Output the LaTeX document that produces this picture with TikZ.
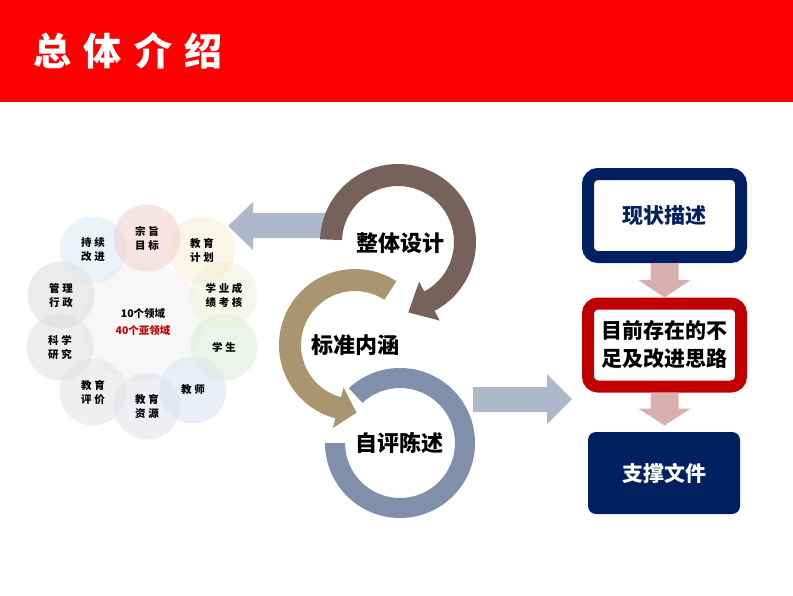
\documentclass[tikz,border=0pt]{standalone}
\usepackage{fontspec}
\setmainfont{Noto Sans CJK SC}
\usetikzlibrary{calc}
\definecolor{hdrred}{HTML}{FF0000}
\definecolor{navy}{HTML}{002060}
\definecolor{darkred}{HTML}{C00000}
\definecolor{ringbrown}{HTML}{76625A}
\definecolor{ringtan}{HTML}{A99671}
\definecolor{ringblue}{HTML}{8090AA}
\definecolor{grayarr}{HTML}{ADB9CA}
\definecolor{pinkarr}{HTML}{D8AEAE}
\definecolor{cA}{HTML}{F2CFCF}
\definecolor{cB}{HTML}{F6EDD5}
\definecolor{cC}{HTML}{EEF2D8}
\definecolor{cD}{HTML}{DDEADC}
\definecolor{cE}{HTML}{DAE3F2}
\definecolor{cF}{HTML}{E3E1E8}
\definecolor{cG}{HTML}{E3E3E3}
\definecolor{cH}{HTML}{E0E0E0}
\definecolor{cI}{HTML}{DCDCDC}
\definecolor{cJ}{HTML}{DCE8F4}
\begin{document}
\begin{tikzpicture}[x=1pt,y=1pt,
  titletext/.style={text=white,font=\bfseries\fontsize{38}{40}\selectfont,inner sep=0pt},
  dom/.style={circle,minimum size=67pt,inner sep=0pt,align=center,
    font=\bfseries\fontsize{10.5}{14}\selectfont\addfontfeature{LetterSpace=25},fill opacity=0.55,text opacity=1},
  ringtext/.style={font=\bfseries\fontsize{22}{24}\selectfont,inner sep=0pt},
  framebox/.style={rectangle,rounded corners=10pt,line width=12pt,fill=white,
    minimum width=153pt,minimum height=83pt,align=center,
    font=\bfseries\fontsize{21}{28}\selectfont,inner sep=0pt},
  solidbox/.style={rectangle,rounded corners=8pt,fill=navy,text=white,
    minimum width=152pt,minimum height=82pt,
    font=\bfseries\fontsize{21}{28}\selectfont,inner sep=0pt}]
\useasboundingbox (0,0) rectangle (793,-595);
\fill[white] (0,0) rectangle (793,-595);
% header
\fill[hdrred] (0,0) rectangle (793,-102);
\node[titletext] (title) at (128,-51) {总\hspace{12.5pt}体\hspace{12.5pt}介\hspace{12.5pt}绍};

% cluster of domains
\node[circle,minimum size=120pt,fill=black!3,inner sep=0pt] (hub) at (143,-322) {};
\node[dom,fill=cF] (d6) at (147,-406) {教育\\资源};
\node[dom,fill=cE] (d5) at (193,-390) {教师};
\node[dom,fill=cG] (d7) at (93,-392) {教育\\评价};
\node[dom,fill=cH] (d8) at (60,-347) {科学\\研究};
\node[dom,fill=cD] (d4) at (224,-347) {学生};
\node[dom,fill=cI] (d9) at (61,-295) {管理\\行政};
\node[dom,fill=cC] (d3) at (224,-295) {学业成\\绩考核};
\node[dom,fill=cJ] (d10) at (93,-250) {持续\\改进};
\node[dom,fill=cB] (d2) at (202,-250) {教育\\计划};
\node[dom,fill=cA] (d1) at (147,-238) {宗旨\\目标};
\node[align=center,font=\bfseries\fontsize{10.5}{17}\selectfont,inner sep=0pt] (hubtext) at (143,-322)
  {10个领域\\\textcolor{darkred}{40个亚领域}};

% left gray arrow
\fill[grayarr] (330,-213) -- (253,-213) -- (253,-202) -- (228,-226) -- (253,-250) -- (253,-238) -- (330,-238) -- cycle;
% right gray arrow
\fill[grayarr] (473,-387) -- (547,-387) -- (547,-374) -- (572,-399) -- (547,-424) -- (547,-412) -- (473,-412) -- cycle;

% rings
\coordinate (C1) at (398,-242);
\coordinate (C2) at (355,-345);
\coordinate (C3) at (400,-443);
% blue ring
\fill[ringblue] ($(C3)+(133:75)$) arc[start angle=133,end angle=-180,radius=75]
  -- ($(C3)+(180:55)$) arc[start angle=-180,end angle=133,radius=55] -- cycle;
% tan ring
\fill[ringtan] ($(C2)+(57:76)$) arc[start angle=57,end angle=255,radius=76]
  -- ($(C2)+(255:86)$) -- ($(C2)+(255:65)+(345:19)$) -- ($(C2)+(255:44)$)
  -- ($(C2)+(255:54)$) arc[start angle=255,end angle=57,radius=54] -- cycle;
% brown ring
\fill[ringbrown] ($(C1)+(178:78)$) arc[start angle=178,end angle=-62,radius=78]
  -- ($(C1)+(-62:89)$) -- ($(C1)+(-62:67)+(-152:24)$) -- ($(C1)+(-62:45)$)
  -- ($(C1)+(-62:56)$) arc[start angle=-62,end angle=178,radius=56] -- cycle;
\node[ringtext] (t1) at (400,-243) {整体设计};
\node[ringtext] (t2) at (355,-345) {标准内涵};
\node[ringtext] (t3) at (399,-443) {自评陈述};

% right column
\node[framebox,draw=navy,text=navy] (box1) at (664.5,-215.5) {现状描述};
\node[framebox,draw=darkred] (box2) at (664.5,-345) {目前存在的不\\足及改进思路};
\node[solidbox] (box3) at (664,-473) {支撑文件};
\fill[pinkarr] ($(box1.south)+(-14,0)$) -- ($(box1.south)+(14,0)$) -- ($(box1.south)+(14,-17)$)
  -- ($(box1.south)+(26,-17)$) -- (box2.north) -- ($(box1.south)+(-26,-17)$)
  -- ($(box1.south)+(-14,-17)$) -- cycle;
\fill[pinkarr] ($(box2.south)+(-14,0)$) -- ($(box2.south)+(14,0)$) -- ($(box2.south)+(14,-16)$)
  -- ($(box2.south)+(26,-16)$) -- ($(box2.south)+(0,-33)$) -- ($(box2.south)+(-26,-16)$)
  -- ($(box2.south)+(-14,-16)$) -- cycle;
\end{tikzpicture}
\end{document}
